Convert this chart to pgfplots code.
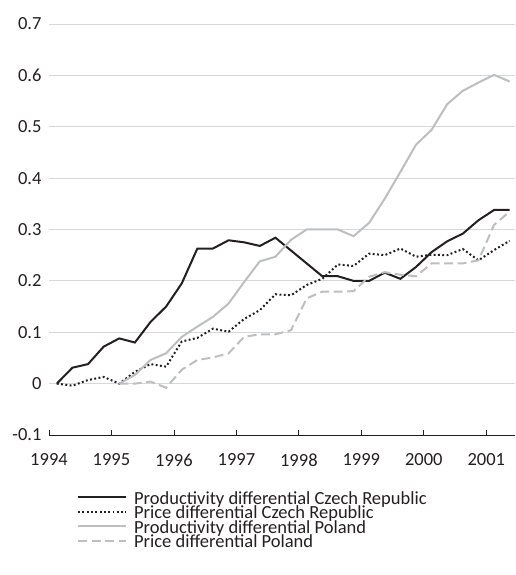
\documentclass[border=0pt]{standalone}
\usepackage{pgfplots}
\pgfplotsset{compat=1.18}
\usepackage{fontspec}
\setmainfont{Carlito}
\definecolor{ink}{HTML}{231F20}
\definecolor{lgrey}{HTML}{BCBEC0}
\definecolor{gridc}{HTML}{D6D7D8}
\pgfplotstableread{
x cp cpr
1994.125 0.000 0.000
1994.375 0.031 -0.004
1994.625 0.038 0.007
1994.875 0.072 0.013
1995.125 0.088 0.000
1995.375 0.080 0.023
1995.625 0.120 0.038
1995.875 0.150 0.033
1996.125 0.195 0.082
1996.375 0.263 0.089
1996.625 0.263 0.107
1996.875 0.279 0.101
1997.125 0.275 0.126
1997.375 0.268 0.143
1997.625 0.284 0.174
1997.875 0.259 0.172
1998.125 0.234 0.192
1998.375 0.209 0.204
1998.625 0.209 0.232
1998.875 0.200 0.229
1999.125 0.200 0.253
1999.375 0.216 0.250
1999.625 0.204 0.263
1999.875 0.227 0.247
2000.125 0.256 0.251
2000.375 0.277 0.250
2000.625 0.292 0.262
2000.875 0.318 0.240
2001.125 0.338 0.260
2001.375 0.338 0.278
}\czech
\pgfplotstableread{
x pp ppr
1995.125 0.000 0.000
1995.375 0.017 0.000
1995.625 0.046 0.004
1995.875 0.059 -0.008
1996.125 0.091 0.027
1996.375 0.111 0.046
1996.625 0.130 0.051
1996.875 0.156 0.059
1997.125 0.198 0.091
1997.375 0.238 0.096
1997.625 0.247 0.096
1997.875 0.280 0.104
1998.125 0.300 0.166
1998.375 0.300 0.179
1998.625 0.300 0.179
1998.875 0.287 0.180
1999.125 0.313 0.208
1999.375 0.360 0.217
1999.625 0.412 0.212
1999.875 0.465 0.209
2000.125 0.494 0.234
2000.375 0.544 0.234
2000.625 0.570 0.234
2000.875 0.586 0.240
2001.125 0.601 0.309
2001.375 0.588 0.335
}\poland
\begin{document}
\begin{tikzpicture}
\begin{axis}[
  at={(0pt,0pt)}, anchor=south west,
  scale only axis, width=466pt, height=411pt,
  xmin=1994, xmax=2001.46, ymin=-0.1, ymax=0.7,
  axis x line*=bottom, axis y line*=left,
  x axis line style={ink, line width=0.8pt},
  y axis line style={draw=none},
  xtick={1994,1995,1996,1997,1998,1999,2000,2001},
  xticklabels={1994,1995,1996,1997,1998,1999,2000,2001},
  xtick align=inside, major tick length=5pt,
  x tick style={ink, line width=0.8pt},
  y tick style={draw=none},
  ytick={-0.1,0,0.1,0.2,0.3,0.4,0.5,0.6,0.7},
  yticklabels={-0.1,0,0.1,0.2,0.3,0.4,0.5,0.6,0.7},
  ymajorgrids, grid style={gridc, line width=0.9pt},
  tick label style={font=\fontsize{18.5}{20}\selectfont, text=ink},
  xticklabel style={yshift=-15pt},
  yticklabel style={xshift=-4pt},
  legend cell align=left,
  legend style={at={(0.06,-0.14)}, anchor=north west, draw=none, fill=none,
    inner sep=0pt, column sep=7pt, row sep=0.5pt,
    font=\fontsize{18.5}{18}\selectfont, text=ink,
    nodes={inner sep=0pt, text height=11.5pt, text depth=2.5pt}},
  legend image code/.code={\draw[#1] (0pt,0.25em) -- (48pt,0.25em);},
]
\addplot[ink, line width=2pt] table[x=x, y=cp] {\czech};
\addlegendentry{Productivity differential Czech Republic}
\addplot[ink, line width=2pt, dash pattern=on 1.9pt off 2.4pt] table[x=x, y=cpr] {\czech};
\addlegendentry{Price differential Czech Republic}
\addplot[lgrey, line width=2pt] table[x=x, y=pp] {\poland};
\addlegendentry{Productivity differential Poland}
\addplot[lgrey, line width=2pt, dash pattern=on 9pt off 4.5pt] table[x=x, y=ppr] {\poland};
\addlegendentry{Price differential Poland}
\end{axis}
\pgfresetboundingbox
\path (-49pt,-140pt) rectangle (466pt,435pt);
\end{tikzpicture}
\end{document}
